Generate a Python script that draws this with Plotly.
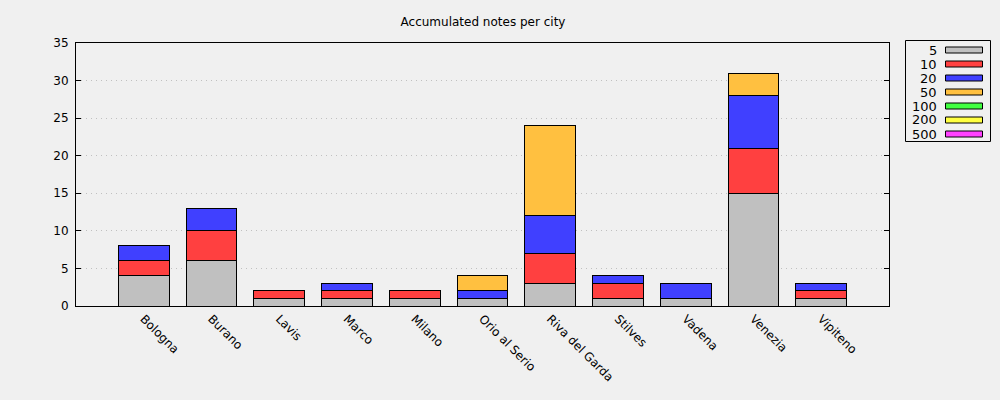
import plotly.graph_objects as go

cities = ["Bologna", "Burano", "Lavis", "Marco", "Milano", "Orio al Serio",
          "Riva del Garda", "Stilves", "Vadena", "Venezia", "Vipiteno"]
notes = ["5", "10", "20", "50", "100", "200", "500"]

n5 = [4, 6, 1, 1, 1, 1, 3, 1, 1, 15, 1]
n10 = [2, 4, 1, 1, 1, 0, 4, 2, 0, 6, 1]
n20 = [2, 3, 0, 1, 0, 1, 5, 1, 2, 7, 1]
n50 = [0, 0, 0, 0, 0, 2, 12, 0, 0, 3, 0]
n100 = [0] * 11
n200 = [0] * 11
n500 = [0] * 11

series = [n5, n10, n20, n50, n100, n200, n500]
colors = ["#c0c0c0", "#ff4040", "#4040ff", "#ffc040", "#40ff40", "#ffff40", "#ff40ff"]

W, H = 1000, 400
L, R, T, B = 76, 889, 43, 306

fig = go.Figure()
xs = list(range(len(cities)))
for name, vals, col in zip(notes, series, colors):
    fig.add_trace(go.Bar(x=xs, y=vals, name=name, width=0.75,
                         marker=dict(color=col, line=dict(color="black", width=1)),
                         showlegend=False))


def px(x):
    return (x - L) / (R - L)


def py(y):
    return (B - y) / (B - T)


# legend box drawn by hand (gnuplot style: label then swatch)
fig.add_shape(type="rect", xref="paper", yref="paper",
              x0=px(905.5), x1=px(990.5), y0=py(141.5), y1=py(40.5),
              line=dict(color="black", width=1), fillcolor="#f0f0f0", layer="above")
for i, (name, col) in enumerate(zip(notes, colors)):
    yc = 50 + i * 14
    fig.add_shape(type="rect", xref="paper", yref="paper",
                  x0=px(945.5), x1=px(982.5), y0=py(yc + 3), y1=py(yc - 3),
                  line=dict(color="black", width=1), fillcolor=col)
    fig.add_annotation(xref="paper", yref="paper", x=px(939), y=py(yc),
                       text=name, showarrow=False, xanchor="right", yanchor="middle",
                       font=dict(size=13, color="black"))

fig.update_layout(
    width=W, height=H,
    margin=dict(l=L, r=W - R, t=T, b=H - B),
    paper_bgcolor="#f0f0f0", plot_bgcolor="#f0f0f0",
    barmode="stack",
    font=dict(family="DejaVu Sans", size=12, color="black"),
    title=dict(text="Accumulated notes per city", x=0.483, xanchor="center",
               y=1 - 22 / H, yanchor="middle", font=dict(size=12)),
)
fig.update_xaxes(range=[-1, 11], tickmode="array", tickvals=xs, ticktext=cities,
                 tickangle=45, ticks="", showgrid=False, zeroline=False,
                 showline=True, linecolor="black", linewidth=1, mirror=True)
fig.update_yaxes(range=[0, 35], dtick=5, ticks="inside", ticklen=5, tickcolor="black",
                 showline=True, linecolor="black", linewidth=1, mirror="allticks",
                 showgrid=True, gridcolor="#c0c0c0", griddash="1px,4px", gridwidth=1,
                 zeroline=False, ticklabelstandoff=4)

fig.write_html("out.html", config={"displayModeBar": False},
               post_script="document.body.style.margin='0';")
